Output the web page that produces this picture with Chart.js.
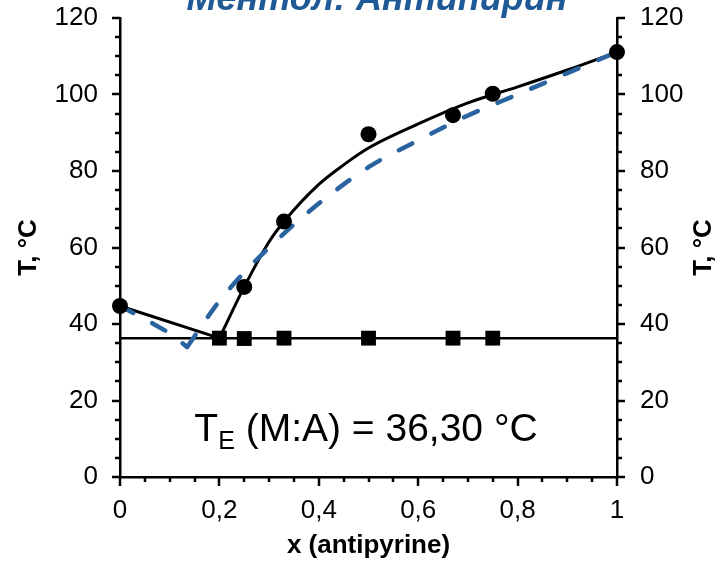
<!DOCTYPE html>
<html>
<head>
<meta charset="utf-8">
<script src="https://cdn.jsdelivr.net/npm/chart.js@4.4.1/dist/chart.umd.min.js"></script>
<style>
    html, body { margin: 0; padding: 0; background: #fff; }
    #wrap { width: 724px; height: 561px; position: relative; }
</style>
</head>
<body>
<div id="wrap"><canvas id="chart"></canvas></div>
<script>
// Experimental liquidus points (circles)
const expX = [0, 0.25, 0.33, 0.5, 0.67, 0.75, 1];
const expT = [44.7, 49.7, 66.8, 89.6, 94.6, 100.2, 111.1];

// Eutectic points (squares) and eutectic line
const eutX = [0.2, 0.25, 0.33, 0.5, 0.67, 0.75];
const eutT = [36.3, 36.2, 36.3, 36.3, 36.3, 36.3];
const eutLineX = [0, 1];
const eutLineT = [36.3, 36.3];

// Solid fitted liquidus, left and right branch
const fitLeftX = [0, 0.2];
const fitLeftT = [44.7, 36.3];
const fitRightX = [0.2, 0.25, 0.3, 0.33, 0.4, 0.45, 0.5, 0.6, 0.7, 0.8, 0.9, 1];
const fitRightT = [36.3, 49.7, 61.5, 66.8, 76.5, 81.6, 86, 92.3, 97.8, 102, 106.4, 111.1];

// Dashed ideal liquidus, left and right branch
const idealLeftX = [0, 0.05, 0.1, 0.135];
const idealLeftT = [44.7, 41.3, 37.6, 34];
const idealRightX = [0.135, 0.2, 0.25, 0.3, 0.35, 0.4, 0.5, 0.6, 0.7, 0.8, 0.9, 1];
const idealRightT = [34, 46, 53.5, 60, 66, 71.5, 81, 88, 94.5, 100, 105.6, 111.1];

const chartTitle = 'Ментол: Антипирин';
const xTitle = 'x (antipyrine)';
const yTitle = 'T, °C';
const noteMain = 'T';
const noteSub = 'E';
const noteRest = ' (M:A) = 36,30 °C';
const noteX = 0.495;
const noteT = 9.4;

function toPoints(xs, ys) {
    return xs.map((x, i) => ({ x: x, y: ys[i] }));
}

const blue = '#2A64A0';

Chart.defaults.font.family = "'Liberation Sans', Arial, sans-serif";
Chart.defaults.color = '#000';

// Draws tick marks, right axis title, chart title and the eutectic note
const decorPlugin = {
    id: 'decor',
    afterDraw(chart) {
        const ctx = chart.ctx;
        const xs = chart.scales.x;
        const ys = chart.scales.y;
        const { left, right, bottom } = chart.chartArea;

        ctx.save();
        ctx.strokeStyle = '#000';
        ctx.lineWidth = 2.5;
        ctx.beginPath();
        for (let v = 0; v <= 120; v += 5) {
            const y = Math.round(ys.getPixelForValue(v));
            const len = v % 20 === 0 ? 8 : 5;
            ctx.moveTo(left - len, y);
            ctx.lineTo(left, y);
            ctx.moveTo(right, y);
            ctx.lineTo(right + len, y);
        }
        for (let i = 0; i <= 20; i++) {
            const x = Math.round(xs.getPixelForValue(i * 0.05));
            const len = i % 4 === 0 ? 9 : 5;
            ctx.moveTo(x, bottom);
            ctx.lineTo(x, bottom + len);
        }
        ctx.stroke();

        // right axis title, reads bottom to top like the left one
        ctx.font = "bold 26px 'Liberation Sans', Arial, sans-serif";
        ctx.fillStyle = '#000';
        ctx.textAlign = 'center';
        ctx.textBaseline = 'middle';
        ctx.translate(704, (chart.chartArea.top + bottom) / 2);
        ctx.rotate(-Math.PI / 2);
        ctx.fillText(yTitle, 0, 0);
        ctx.setTransform(1, 0, 0, 1, 0, 0);

        // chart title, cut off at the top like the original
        ctx.font = "italic bold 36px 'Liberation Sans', Arial, sans-serif";
        ctx.fillStyle = '#1F5A96';
        ctx.textAlign = 'center';
        ctx.textBaseline = 'alphabetic';
        ctx.fillText(chartTitle, 377, 10);

        // eutectic note
        const bigFont = "39px 'Liberation Sans', Arial, sans-serif";
        const subFont = "25px 'Liberation Sans', Arial, sans-serif";
        ctx.fillStyle = '#000';
        ctx.textAlign = 'left';
        ctx.font = bigFont;
        const w1 = ctx.measureText(noteMain).width;
        const w3 = ctx.measureText(noteRest).width;
        ctx.font = subFont;
        const w2 = ctx.measureText(noteSub).width;
        const total = w1 + w2 + w3;
        let px = xs.getPixelForValue(noteX) - total / 2;
        const py = ys.getPixelForValue(noteT);
        ctx.font = bigFont;
        ctx.fillText(noteMain, px, py);
        px += w1;
        ctx.font = subFont;
        ctx.fillText(noteSub, px, py + 8);
        px += w2;
        ctx.font = bigFont;
        ctx.fillText(noteRest, px, py);
        ctx.restore();
    }
};

const ctx = document.getElementById('chart').getContext('2d');
new Chart(ctx, {
    type: 'scatter',
    data: {
        datasets: [
            {
                label: 'eutectic',
                data: toPoints(eutX, eutT),
                pointStyle: 'rect',
                pointRadius: 10.5,
                backgroundColor: '#000',
                borderColor: '#000',
                borderWidth: 0,
                showLine: false,
                clip: false
            },
            {
                label: 'experiment',
                data: toPoints(expX, expT),
                pointStyle: 'circle',
                pointRadius: 8,
                backgroundColor: '#000',
                borderColor: '#000',
                borderWidth: 0,
                showLine: false,
                clip: false
            },
            {
                label: 'ideal left',
                data: toPoints(idealLeftX, idealLeftT),
                showLine: true,
                borderColor: blue,
                borderWidth: 4.5,
                borderDash: [15, 21.5],
                borderCapStyle: 'round',
                pointRadius: 0,
                clip: false
            },
            {
                label: 'ideal right',
                data: toPoints(idealRightX, idealRightT),
                showLine: true,
                borderColor: blue,
                borderWidth: 4.5,
                borderDash: [15, 21.5],
                borderCapStyle: 'round',
                cubicInterpolationMode: 'monotone',
                pointRadius: 0,
                clip: false
            },
            {
                label: 'fit left',
                data: toPoints(fitLeftX, fitLeftT),
                showLine: true,
                borderColor: '#000',
                borderWidth: 3,
                pointRadius: 0,
                clip: false
            },
            {
                label: 'fit right',
                data: toPoints(fitRightX, fitRightT),
                showLine: true,
                borderColor: '#000',
                borderWidth: 3,
                cubicInterpolationMode: 'monotone',
                pointRadius: 0,
                clip: false
            },
            {
                label: 'eutectic line',
                data: toPoints(eutLineX, eutLineT),
                showLine: true,
                borderColor: '#000',
                borderWidth: 2.5,
                pointRadius: 0,
                clip: false
            }
        ]
    },
    options: {
        responsive: true,
        maintainAspectRatio: false,
        animation: false,
        devicePixelRatio: 1,
        layout: { padding: 0 },
        plugins: {
            legend: { display: false },
            tooltip: { enabled: false }
        },
        scales: {
            x: {
                type: 'linear',
                position: 'bottom',
                min: 0,
                max: 1,
                grid: { display: false, drawTicks: false },
                border: { display: true, color: '#000', width: 2.5 },
                ticks: {
                    stepSize: 0.2,
                    padding: 18,
                    font: { size: 26 },
                    maxRotation: 0,
                    callback: v => String(Math.round(v * 10) / 10).replace('.', ',')
                },
                title: {
                    display: true,
                    text: xTitle,
                    font: { size: 26, weight: 'bold' },
                    padding: { top: 0, bottom: 0 }
                },
                afterFit: scale => { scale.height = 84; }
            },
            y: {
                type: 'linear',
                position: 'left',
                min: 0,
                max: 120,
                grid: { display: false, drawTicks: false },
                border: { display: true, color: '#000', width: 2.5 },
                ticks: { stepSize: 20, padding: 22, font: { size: 26 } },
                title: {
                    display: true,
                    text: yTitle,
                    font: { size: 26, weight: 'bold' },
                    padding: { top: 13, bottom: 0 }
                },
                afterFit: scale => {
                    scale.width = 120;
                    scale.paddingTop = 18;
                    scale.paddingBottom = 0;
                }
            },
            y2: {
                type: 'linear',
                position: 'right',
                min: 0,
                max: 120,
                grid: { display: false, drawTicks: false },
                border: { display: true, color: '#000', width: 2.5 },
                ticks: { stepSize: 20, padding: 23, font: { size: 26 } },
                afterFit: scale => {
                    scale.width = 107;
                    scale.paddingTop = 18;
                    scale.paddingBottom = 0;
                }
            }
        }
    },
    plugins: [decorPlugin]
});
</script>
</body>
</html>
